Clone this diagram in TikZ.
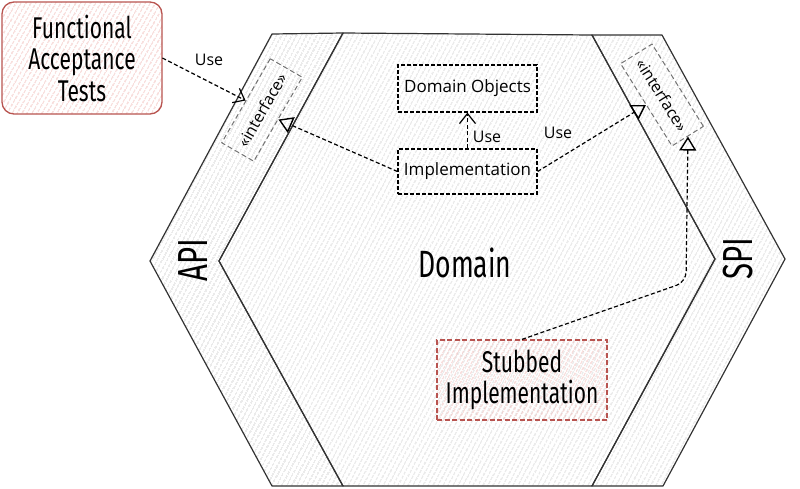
\documentclass[tikz,border=0pt]{standalone}
\usepackage{fontspec}
\setmainfont{Open Sans}
\newfontfamily\headfont[FakeStretch=0.7]{Fira Sans}
\usetikzlibrary{arrows.meta,patterns.meta}
\definecolor{redline}{HTML}{B85450}
\definecolor{redhatch}{HTML}{EBA3A0}
\begin{document}
\begin{tikzpicture}[x=1pt,y=-1pt,
	hex/.style={draw=black!80,line width=1.2pt,line join=round,pattern={Lines[angle=62,distance=4pt,line width=0.6pt]},pattern color=black!22},
	redbox/.style={draw=redline,line width=1.3pt,inner sep=0pt,align=center,pattern={Lines[angle=60,distance=4pt,line width=0.8pt]},pattern color=redhatch,font=\headfont\fontsize{30}{31.5}\selectfont},
	umlbox/.style={draw=black,line width=1.2pt,dash pattern=on 4pt off 2pt,inner sep=0pt,minimum width=139pt,font=\fontsize{17}{20}\selectfont},
	iface/.style={draw=black!55,line width=1pt,dash pattern=on 5pt off 3pt,inner sep=0pt,minimum width=97pt,minimum height=37pt,font=\fontsize{16}{18}\selectfont},
	head/.style={inner sep=0pt,font=\headfont\fontsize{38}{40}\selectfont},
	lbl/.style={inner sep=0pt,font=\fontsize{16}{18}\selectfont},
	conn/.style={line width=1.2pt,dash pattern=on 4pt off 2.5pt},
	use/.style={conn,-{Straight Barb[length=10pt,width=16pt,line width=1.2pt]}},
	real/.style={conn,-{Triangle[open,length=14pt,width=17pt,line width=1.4pt]}}]
	\useasboundingbox (0,0) rectangle (800,488);
	\draw[hex] (272,34) -- (343,33) -- (219,261) -- (343,486) -- (272,486) -- (150,261) -- cycle;
	\draw[hex] (343,33) -- (592,35) -- (715,259) -- (592,486) -- (343,486) -- (219,261) -- cycle;
	\draw[hex] (592,35) -- (662,35) -- (785,259) -- (663,486) -- (592,486) -- (715,259) -- cycle;
	\node[head] (domain) at (465,263) {Domain};
	\node[head,rotate=90,font=\headfont\fontsize{42}{44}\selectfont] (api) at (193,260) {API};
	\node[head,rotate=90,font=\headfont\fontsize{42}{44}\selectfont] (spi) at (738,259) {SPI};
	\node[redbox,rounded corners=12pt,minimum width=160pt,minimum height=112pt] (fat) at (82,58) {Functional\\Acceptance\\Tests};
	\node[redbox,dash pattern=on 5pt off 2.5pt,minimum width=170pt,minimum height=80pt] (stub) at (522,380) {Stubbed\\Implementation};
	\node[umlbox,minimum height=47pt] (dobj) at (467.5,88.5) {Domain Objects};
	\node[umlbox,minimum height=45pt] (impl) at (467.5,171.5) {Implementation};
	\node[iface,rotate=60] (ifapi) at (262,110) {«interface»};
	\node[iface,rotate=-58] (ifspi) at (662,95) {«interface»};
	\coordinate (bend) at (686,282);
	\draw[use] (fat.east) -- (ifapi.north);
	\draw[use] (impl.north) -- (dobj.south);
	\draw[real] (impl.west) -- (ifapi.south);
	\draw[real] (impl.east) -- (ifspi.south);
	\draw[real,rounded corners=10pt] (stub.north) -- (bend) -- (ifspi.east);
	\node[lbl] (use1) at (209,60) {Use};
	\node[lbl] (use2) at (487,137) {Use};
	\node[lbl] (use3) at (558,133) {Use};
\end{tikzpicture}
\end{document}
